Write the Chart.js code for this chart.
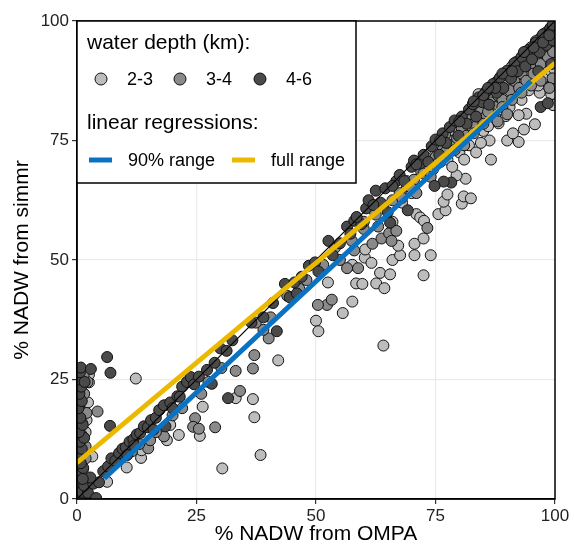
<!DOCTYPE html>
<html>
<head>
<meta charset="utf-8">
<script src="https://cdn.jsdelivr.net/npm/chart.js@4.4.0/dist/chart.umd.min.js"></script>
<style>
  html, body { margin: 0; padding: 0; background: #fff; }
</style>
</head>
<body>
<canvas id="chart" width="574" height="550"></canvas>
<script>
// points: [OMPA %, simmr %]
const depth23 = [
  [12.3,25.2],[3.2,8.9],[10.4,6.6],[6.3,3.6],[13.4,8.6],[13.5,10.2],[18.8,12.3],[21.3,13.4],
  [25.7,13.2],[33.2,21.1],[36.8,20.9],[37.1,17.1],[30.4,6.4],[38.4,9.2],[42.1,29],[26.3,19.3],
  [2.3,20.2],[2.5,24.4],[1.8,14],[2.5,26],[19.5,15.5],[2.0,16.5],[1.4,10.5],
  [50,37.3],[50.5,35.1],[52.5,45.3],[55.6,38.9],[57.6,41.3],[58.4,45.1],[59.7,45],[57.6,49],
  [60.2,50.5],[60.3,52.2],[61.6,49.4],[62.6,45.1],[63.4,47.3],[64.3,44.1],[65.5,47],[66,50],
  [67.6,51],[67.2,53],[70.6,53.4],[70.6,51],[74,51],[72.5,46.8],[64.1,32.1],[71,59.6],
  [71.8,58.9],[72.6,58.2],[72.5,54.5],[75.6,59.6],[77.1,60.4],[76.7,62.2],[77.5,63.7],
  [80.5,61.8],[80.9,63.3],[82.4,62.9],[81.3,67],[79.4,67.7],[74.5,69],[76,70.5],[77.5,71],
  [78.5,69.5],[80,72.5],[81,71],[82,74],[83.5,72.5],[84,84.7],[86.6,71],[86.3,75],[88.2,78.6],
  [90,75],[92.4,74.7],[91.2,76.5],[93.5,77.3],[95.8,78.4],[94,80.6],[92.4,80.3],[89.7,80.1],
  [99.6,82.4],[96.8,85],[99.2,84.7],[98.9,89.4],[97.5,90.5],[85,77],[87,79.5],[84.5,74.5],
  [88.5,81.5],[90.5,82],[91.5,84],[93,83.5],[94.5,85.5],[95.5,87.5],[96.5,86.5],[97.5,88],
  [98.5,93.5],[99.5,95],[99.6,98.5],[88,87.5],[91,90.5],[93.5,93],[95,94.5],[97,96.5],
  [98.5,97.8],[86,85.5],[83,82.5],[78,76],[73,71.5],[69,66.5],[79.5,78.5],[99.5,87],
  [78,75],[80,77],[82,78],[84,80],[86,78],[88,83],[90,85],[92,87],[94,89],[96,91],[98,91.5],
  [99.8,93],[99.8,90],[75,73],[72,70],[70,64],[68,62],[66,58]
];
const depth34 = [
  [1.2,6],[1.8,11],[2,18],[1.5,22],[2.2,24.5],[1.0,16],[0.5,19.5],[1.8,8.5],[0.9,13.5],[1.4,26],
  [4.3,18.3],[14.9,10.6],[15.3,12.3],[18.2,13.1],[24.7,16.9],[24.3,15.1],[25.5,14.7],[28.9,15],
  [34.1,22.6],[37.1,30.1],[36.8,27.3],[30.2,27.4],[33.2,26.8],[9,8.5],[11.5,10],[13,11.5],
  [16.5,14],[20,17.5],[22,19],[26,22],[27.5,24.5],
  [44,42.5],[46.5,44],[48,45.8],[51.5,49],[54,52.6],[56.5,48.3],[57.5,54],[58.8,48.3],[60,56.5],
  [61.8,53.4],[62.5,59.5],[63.7,54.5],[65.3,55.6],[66.8,56.1],[66,62.5],[67.5,64],[69,65.5],
  [70.5,66.8],[72,68.5],[73.3,56.7],[72.5,68.1],[74,67.4],[73.5,70],[75,71.5],[76.5,73],[78,74],
  [79.5,75.5],[80.5,77.5],[81.5,76],[82.5,79],[83.5,78],[84.5,81],[85.5,80],[86.5,83],[87.5,82],
  [88,84.5],[89,83.5],[89.5,86.5],[90.5,85.5],[91.5,87.5],[92.5,86],[93,89],[94,87.5],[94.8,90.5],
  [95.5,89],[96.2,92.5],[97,91],[97.8,94.5],[98.5,92.5],[99.2,96.5],[99.6,93.5],[99.5,88],[98.8,86],
  [52.3,40.6],[53.3,41.7],[50.4,40.6],[40.1,33.6],[40.5,38],[39,35.4],[37.4,36.9],
  [85,84],[87.5,87],[90,89.2],[92,91.5],[94,93.6],[96,95.8],[98,97.5],[82,80.5],[77,76.2],
  [60,58],[62,60.5],[64,61.5],[68,63],[70,65],[71,64],[75,70],[77,72.5],[79,73],[81,74],
  [83,76.5],[85,78.5],[87,80.5],[89,82],[91,83.5],[93,85],[95,86.5],[97,87.5],[86,81],[88,79],
  [90,80.5],[58,52],[55,50],[63,57],[65.8,54]
];
const depth46 = [
  [0.2,3],[0.5,5],[1.3,6.5],[0.8,7.5],[0.3,9],[1.0,10.5],[0.6,12],[1.5,12.8],[0.4,14],[1.2,15.5],
  [0.7,17],[0.3,19],[1.0,20.5],[0.5,22],[0.9,23.5],[0.3,25],[1.6,24.5],[0.6,26.5],[0.8,27.5],
  [0.4,0.2],[1.0,1.5],[2.3,1.3],[4.0,0.2],[1.5,2.8],[3.4,3.2],[4.6,3.5],[2.8,4.5],[1.2,4.2],
  [2.9,27.2],[6.3,29.7],[7.0,26.4],[6.9,15.3],
  [5.5,5.8],[6.5,6.8],[7.2,8.5],[8,8],[8.8,9.6],[9.5,10.5],[10.2,10.8],[11,12],[11.8,12.5],
  [12.5,13.5],[13.2,13.8],[14,15.2],[14.8,15],[15.5,16.5],[16.5,17],[17.2,18.6],[18.2,19.6],
  [19.5,20.2],[21,21.5],[22,23.5],[23,24.5],[23.8,25.5],[24.5,24],[25.5,25.6],[27.2,27],
  [28.8,28.5],[30,31.5],[31.3,31],[32.5,33.2],[28.2,24.1],[31.6,21.1],[36.5,36.9],[39,38],
  [41.8,35.1],[41,41],[43.5,45],[44.5,42.2],[46,43],[10.5,9.2],[12,11.2],[16,14.5],[18.5,15.2],
  [21.5,21.4],[20,19],
  [45.5,45.3],[47,46.5],[48.5,48.8],[49.8,49.5],[50.5,47.6],[52.6,54],[53.5,51],[55,53.5],
  [56.5,57],[57.2,55.5],[58,58.2],[59.5,57.5],[60.5,60.8],[61,62.5],[62.5,64.5],[63.5,62],
  [64.5,65],[65,60],[65.5,57.8],[66.8,66.5],[67.5,67.8],[68.5,66.5],[69.2,60.4],[70,69.5],
  [70.5,70.8],[71.8,70.2],[72.5,72],[73.5,70.5],[74.2,73.8],[75,75.2],[75.8,72],[76.5,76.5],
  [77.2,74.5],[78,77.8],[78.3,66.2],[76.7,66.4],[74.8,65.5],[79,79.2],[79.8,76],[80.5,80],
  [81.5,78.5],[82,81.5],[82.8,82.6],[83.5,80],[84,84],[84.8,83],[85.5,85.2],[86.2,82.5],
  [87,86.8],[87.8,85],[88.5,88.2],[89.2,86],[90,89.6],[90.8,88],[91.5,91.2],[92.2,89.5],
  [93,92.5],[93.8,90.5],[94.5,94],[95.2,92],[96,95.5],[96.8,93.5],[97.5,97.2],[98.2,95],
  [99,98.5],[99.5,96],[97,82],[98.5,82.8],[99.2,91],[96.5,89.5],
  [85,84.5],[87.5,86],[89,89],[91,89.5],[93.5,93.5],[95.5,94.5],[97.5,95.5],[99.5,99.2],
  [98.8,97],[80,79],[76,75],[71,70],[66,65.5],[62,61.5],[58.5,59],[86,86],[83,83.2]
];

// regression line end points
const fit90X = [5.7, 95];
const fit90Y = [4.3, 87.4];
const fitFullX = [0, 100];
const fitFullY = [7.6, 91.2];
const oneToOne = [0, 100];
const axisTicks = [0, 25, 50, 75, 100];

const depthLabels = ['2-3', '3-4', '4-6'];
const depthColors = ['#bdbdbd', '#8a8a8a', '#4a4a4a'];
const fitLabels = ['90% range', 'full range'];
const fitColors = ['#0a72c2', '#ebba00'];

const FONT = '"Liberation Sans", Arial, Helvetica, sans-serif';

const toXY = arr => arr.map(p => ({ x: p[0], y: p[1] }));
const pairXY = (xs, ys) => xs.map((x, i) => ({ x: x, y: ys[i] }));

function pointSet(label, data, color, order) {
    return {
        type: 'scatter',
        label: label,
        data: toXY(data),
        backgroundColor: color,
        borderColor: '#111',
        borderWidth: 1,
        pointRadius: 5.5,
        pointHoverRadius: 5.5,
        order: order
    };
}

function lineSet(label, data, color, width, order) {
    return {
        type: 'line',
        label: label,
        data: data,
        borderColor: color,
        borderWidth: width,
        pointRadius: 0,
        fill: false,
        order: order
    };
}

// frame round the panel and the in-panel legend box
const panelLegend = {
    id: 'panelLegend',
    afterDatasetsDraw(chart) {
        const ctx = chart.ctx;
        const a = chart.chartArea;
        ctx.save();
        ctx.strokeStyle = '#000';
        ctx.lineWidth = 1.5;
        ctx.strokeRect(a.left, a.top, a.right - a.left, a.bottom - a.top);

        // legend box
        const bx = a.left, by = a.top, bw = 279, bh = 162;
        ctx.fillStyle = '#fff';
        ctx.fillRect(bx, by, bw, bh);
        ctx.strokeRect(bx, by, bw, bh);

        ctx.fillStyle = '#000';
        ctx.textBaseline = 'middle';
        ctx.textAlign = 'left';
        ctx.font = '21px ' + FONT;
        ctx.fillText('water depth (km):', bx + 10, by + 22);
        ctx.fillText('linear regressions:', bx + 10, by + 102);

        ctx.font = '18px ' + FONT;
        const keyX = [24, 103, 183];
        depthLabels.forEach((lab, i) => {
            ctx.beginPath();
            ctx.arc(bx + keyX[i], by + 58, 6, 0, Math.PI * 2);
            ctx.fillStyle = depthColors[i];
            ctx.fill();
            ctx.lineWidth = 1;
            ctx.strokeStyle = '#111';
            ctx.stroke();
            ctx.fillStyle = '#000';
            ctx.fillText(lab, bx + keyX[i] + 26, by + 59);
        });

        const lineX = [12, 155];
        fitLabels.forEach((lab, i) => {
            ctx.strokeStyle = fitColors[i];
            ctx.lineWidth = 5;
            ctx.beginPath();
            ctx.moveTo(bx + lineX[i], by + 139);
            ctx.lineTo(bx + lineX[i] + 23, by + 139);
            ctx.stroke();
            ctx.fillStyle = '#000';
            ctx.fillText(lab, bx + lineX[i] + 39, by + 140);
        });
        ctx.restore();
    }
};

const gridColor = c => (c.tick && (c.tick.value === 0 || c.tick.value === 100)) ? 'rgba(0,0,0,0)' : '#ebebeb';

const ctx = document.getElementById('chart');
new Chart(ctx, {
    data: {
        datasets: [
            lineSet('90% range', pairXY(fit90X, fit90Y), fitColors[0], 5, 0),
            lineSet('full range', pairXY(fitFullX, fitFullY), fitColors[1], 5, 1),
            lineSet('1:1', pairXY(oneToOne, oneToOne), '#000', 1.2, 2),
            pointSet('4-6', depth46, depthColors[2], 3),
            pointSet('3-4', depth34, depthColors[1], 4),
            pointSet('2-3', depth23, depthColors[0], 5)
        ]
    },
    options: {
        responsive: false,
        animation: false,
        layout: { padding: { top: 21, right: 19, left: 0, bottom: 0 } },
        plugins: {
            legend: { display: false },
            tooltip: { enabled: false }
        },
        scales: {
            x: {
                type: 'linear',
                min: 0,
                max: 100,
                afterBuildTicks: s => { s.ticks = axisTicks.map(v => ({ value: v })); },
                afterFit: s => { s.height = 51; },
                ticks: { color: '#222', font: { family: FONT, size: 17 }, padding: 2, maxRotation: 0 },
                grid: { color: gridColor, lineWidth: 1.2, tickColor: '#333', tickLength: 5 },
                border: { display: true, color: '#000', width: 1.5 },
                title: { display: true, text: '% NADW from OMPA', color: '#000',
                         font: { family: FONT, size: 21 }, padding: { bottom: 3 } }
            },
            y: {
                type: 'linear',
                min: 0,
                max: 100,
                afterBuildTicks: s => { s.ticks = axisTicks.map(v => ({ value: v })); },
                afterFit: s => { s.width = 77; },
                ticks: { color: '#222', font: { family: FONT, size: 17 }, padding: 3 },
                grid: { color: gridColor, lineWidth: 1.2, tickColor: '#333', tickLength: 5 },
                border: { display: true, color: '#000', width: 1.5 },
                title: { display: true, text: '% NADW from simmr', color: '#000',
                         font: { family: FONT, size: 21 }, padding: { top: 10 } }
            }
        }
    },
    plugins: [panelLegend]
});
</script>
</body>
</html>
